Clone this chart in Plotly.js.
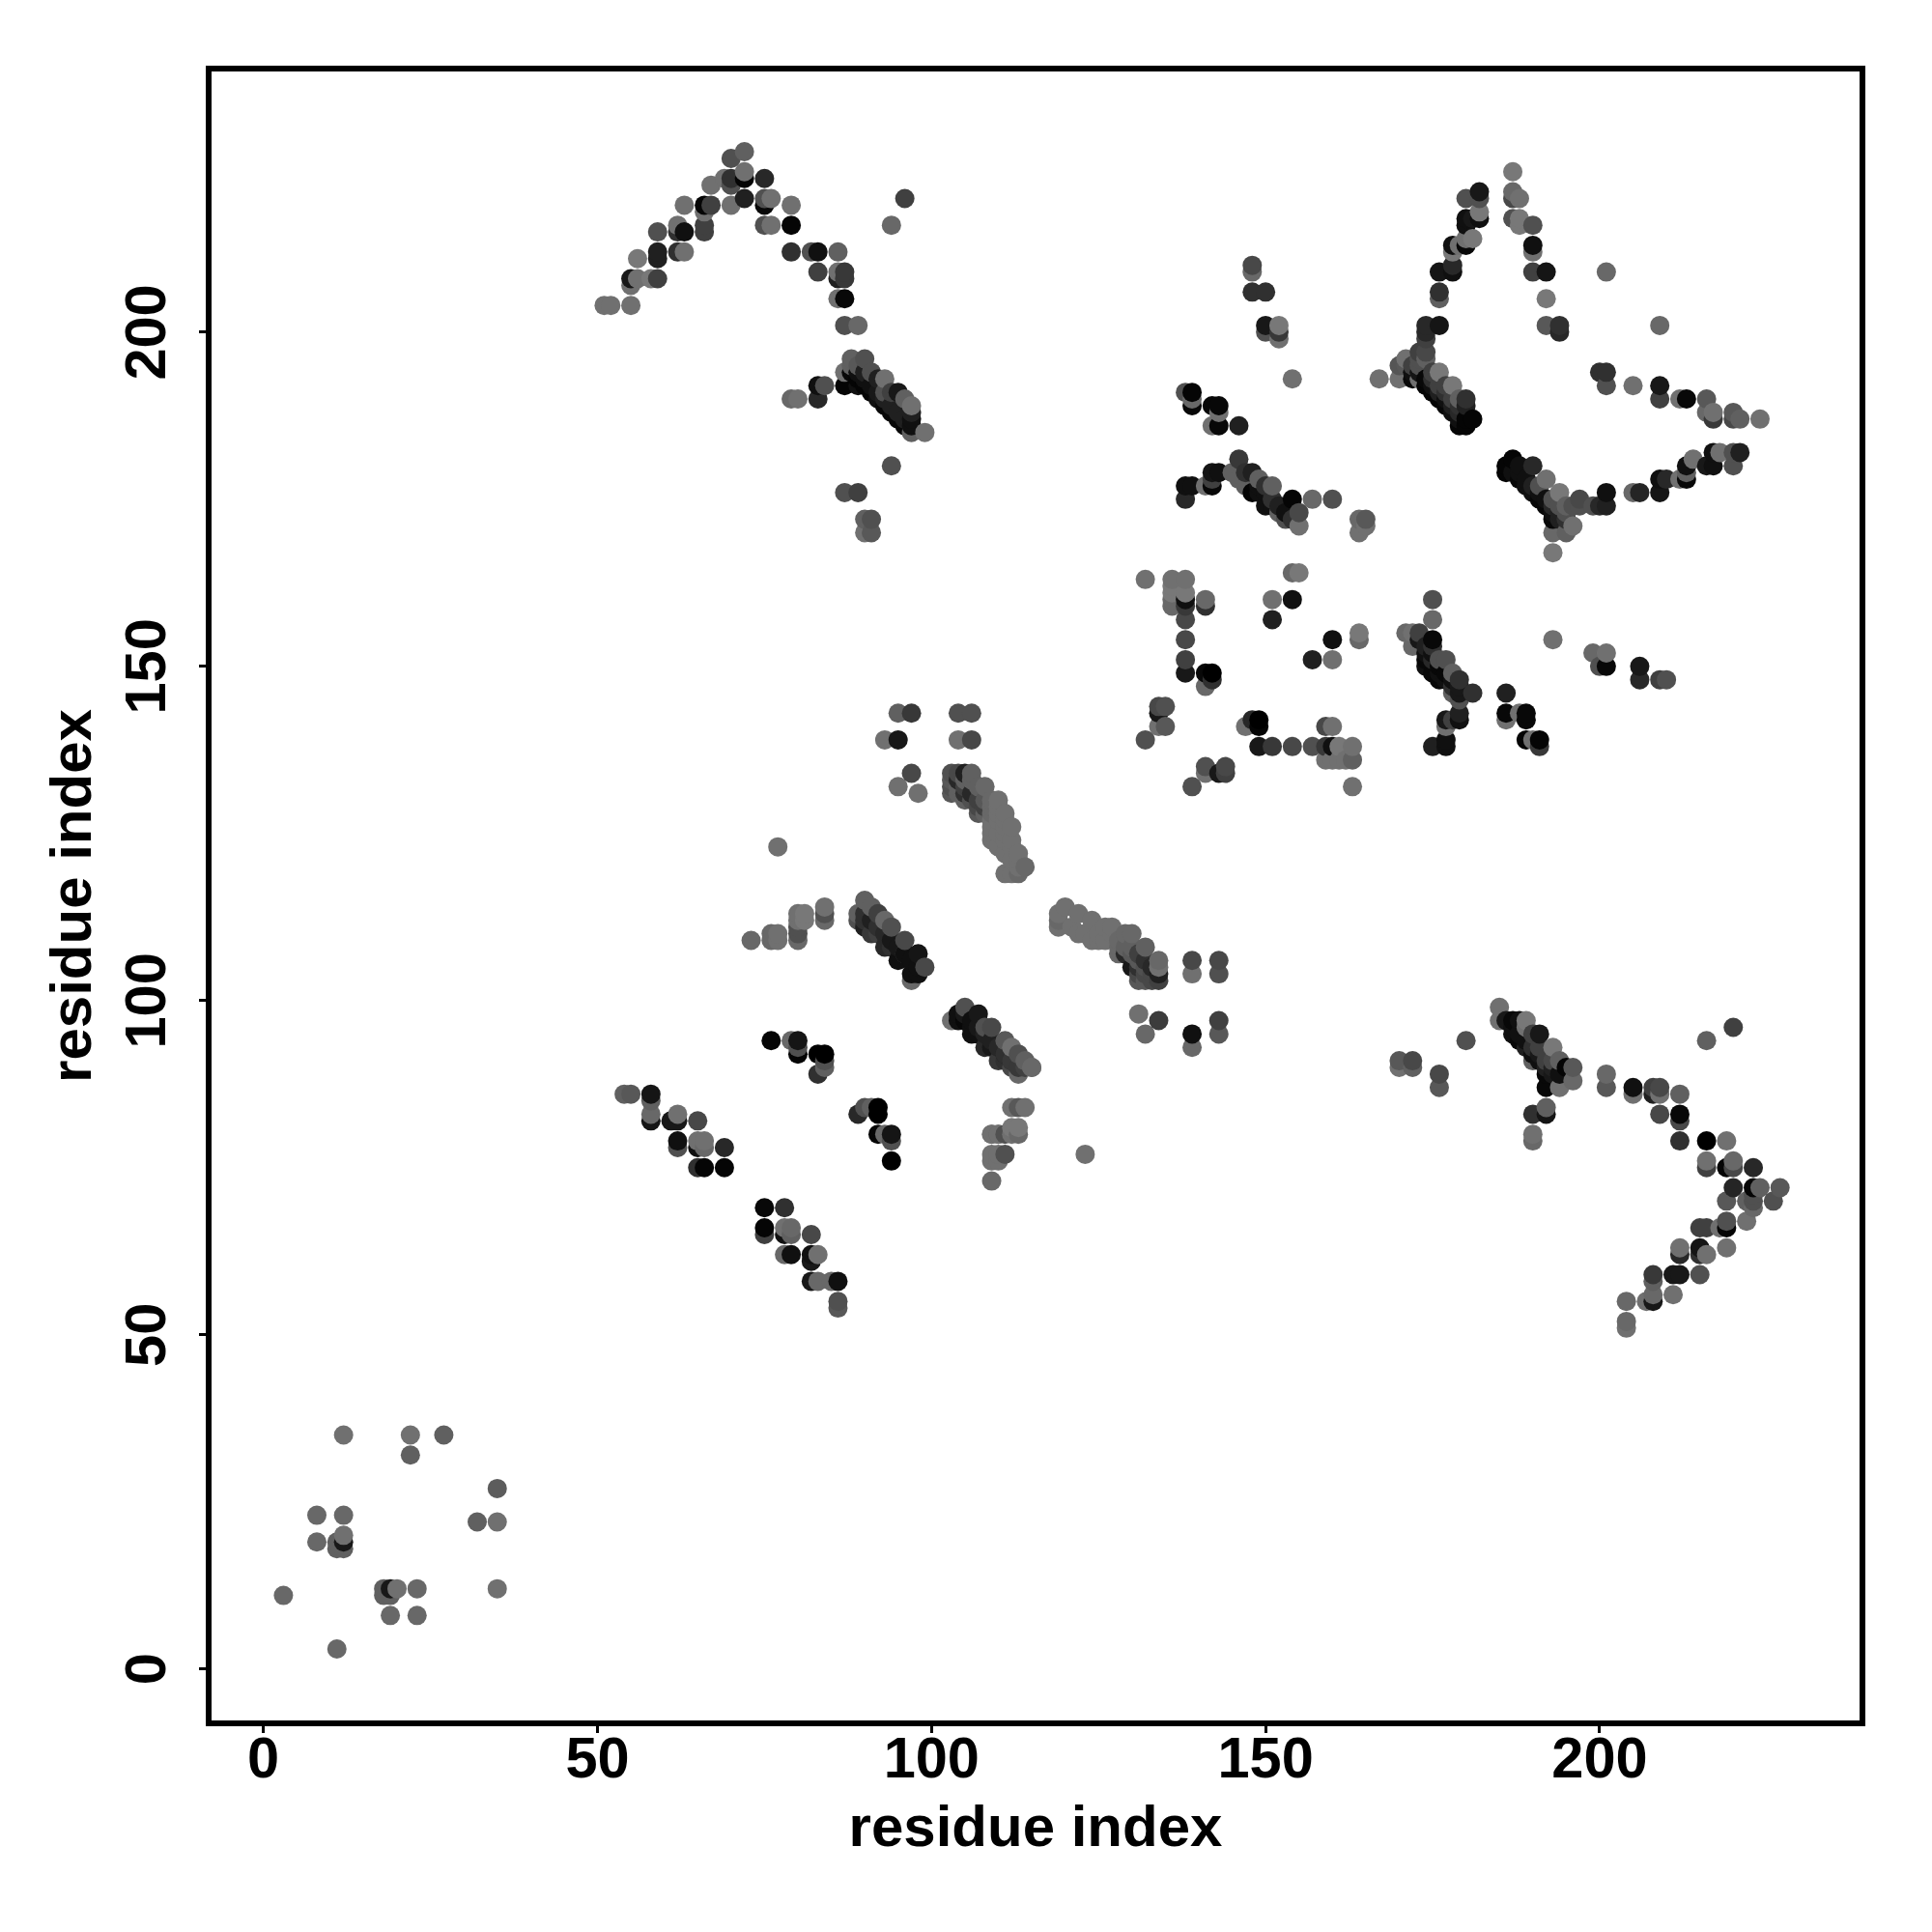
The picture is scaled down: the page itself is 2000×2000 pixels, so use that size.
<!DOCTYPE html>
<html>
<head>
<meta charset="utf-8">
<script src="https://cdn.plot.ly/plotly-3.0.1.min.js"></script>
<style>html,body{margin:0;padding:0;background:#fff}#chart{width:2000px;height:2000px}</style>
</head>
<body>
<div id="chart"></div>
<script>
// residue i, residue j, grey level of the dot (0 = black)
const hookX = [51,52,55,55,55,56,58,59,56,59,59,62,63,59,62,62,63,66,66,66,63,66,67,67,69,70,70,70,72,72,75,70,72,72,75,75,76,75,76,79,79,79,82,83,86,83,86,86,87,87,86,87,87,89,96,94];
const hookY = [204,204,204,207,208,208,208,208,211,211,212,212,212,215,216,215,215,218,216,215,219,219,219,222,223,222,223,219,223,224,223,226,227,220,219,220,220,216,216,216,219,212,212,212,212,209,209,208,209,208,205,205,201,201,220,216];
const hookG = [112,112,112,112,24,112,120,64,120,32,32,48,112,80,112,48,16,112,64,64,112,5,64,112,112,80,48,112,5,112,40,80,96,32,8,80,112,80,112,5,112,48,80,16,96,64,112,32,56,56,112,8,80,104,64,104];

const diagBX = [87,87,88,88,88,89,89,89,90,90,90,91,91,92,92,93,93,93,94,94,95,95,96,96,97,97,97,97,97,99,83,84,83,79,80,94,87,89,90,91,90,91];
const diagBY = [194,192,196,195,194,195,193,192,196,194,192,194,191,193,190,193,191,189,191,188,191,187,190,186,189,188,187,186,185,185,192,192,190,190,190,180,176,176,172,172,170,170];
const diagBG = [112,5,96,96,8,88,5,16,80,32,5,80,5,32,16,112,80,8,64,8,24,8,96,8,112,32,16,16,96,112,16,80,40,104,112,80,80,64,96,80,112,88];

const midTopX = [148,148,148,150,150,150,152,152,152,154,138,139,139,139,142,143,143,142,143,146];
const midTopY = [210,209,206,206,201,200,201,200,199,193,191,191,190,189,189,189,188,186,186,186];
const midTopG = [72,104,48,48,24,80,120,56,112,112,80,5,104,8,8,8,112,112,8,32];

const ridgeX = [146,142,143,138,139,141,142,142,138,145,147,148,149,151,150,148,150,154,152,157,160,155,155,154,153,152,146,147,149,151,149,150,151,153,164,165,164,165];
const ridgeY = [181,179,179,177,177,177,177,178,175,179,179,179,178,177,177,176,174,175,174,175,175,173,171,172,172,173,178,177,176,175,177,176,174,173,172,172,170,171];
const ridgeG = [56,21,16,16,16,112,8,64,40,96,48,32,96,96,48,5,16,5,32,104,80,72,112,48,80,96,96,96,16,48,16,16,16,16,104,88,112,112];

const apexX = [187,182,182,180,187,187,188,182,182,180,181,180,187,188,188,190,181,180,180,178,179,178,190,190,178,178,176,190,192,176,176,192,174,176,174,174,192,194,194,201,209];
const apexY = [224,221,220,220,221,220,220,218,217,217,217,216,217,217,216,216,214,214,213,213,213,212,213,212,210,209,209,209,209,206,205,205,201,201,200,199,201,201,200,209,201];
const apexG = [120,24,80,80,104,72,112,120,16,16,24,16,80,120,120,80,120,112,8,16,112,120,16,112,40,16,21,64,21,48,96,120,40,21,40,64,88,48,40,104,104];

const wingX = [200,201,201,205,209,209,212,213,216,216,217,217,220,220,221,224];
const wingY = [194,194,192,192,192,190,190,190,190,188,188,187,188,187,187,187];
const wingG = [48,48,80,112,24,64,112,8,88,104,112,56,88,72,96,112];

const vArmX = [221,220,220,218,217,217,216,214,213,213,213,212,209,210,209,206,205,201,201,200,199,197,196,196,195,193,193,194,192,190,187,186,186,188,189,191,193,194,187,188,190,192,193,191,193,195,195,197];
const vArmY = [182,182,180,182,182,180,180,181,180,178,179,178,178,178,176,176,176,176,174,174,174,174,174,171,170,170,167,176,178,180,181,180,179,180,177,175,172,172,179,178,176,174,173,177,175,173,172,175];
const vArmG = [32,80,80,112,16,16,24,112,16,8,96,112,16,40,21,37,104,16,32,40,80,80,80,112,96,104,120,120,112,40,5,5,5,16,16,8,8,32,16,8,16,8,16,80,80,80,48,72];

const upDiagX = [167,170,170,171,171,173,174,173,174,173,172,172,173,176,175,175,177,178,177,179,180,180,181,180,179,179,180,178,176,174,173];
const upDiagY = [193,193,195,196,195,197,197,196,196,195,194,193,193,194,194,191,189,192,192,190,190,189,187,186,186,187,187,188,190,192,194];
const upDiagG = [112,112,85,112,88,64,72,80,96,80,16,8,112,120,64,5,8,120,64,96,48,32,5,5,5,16,5,16,5,5,21];

const leftColX = [132,136,138,136,136,138,136,136,138,138,138,141,141,138,138,138,141,142,142,141,134,135,134,134,135,132,141,141,143,144,144,139];
const leftColY = [163,163,163,162,161,161,160,159,160,159,157,160,159,154,151,149,149,149,148,147,144,144,143,141,141,139,135,134,134,135,134,132];
const leftColG = [112,112,112,120,120,120,104,104,16,56,72,104,48,72,64,24,8,0,48,104,72,80,24,112,88,80,80,112,24,72,64,80];

const midLowX = [151,154,151,154,155,160,164,164,157,160,148,149,149,147,149,151,154,157,159,160,161,163,159,160,159,160,161,162,163,163];
const midLowY = [160,160,157,164,164,154,155,154,151,151,142,142,141,141,138,138,138,138,138,138,138,138,141,141,136,136,136,136,136,132];
const midLowG = [112,16,32,104,120,16,120,104,32,112,40,0,5,112,24,56,72,80,56,16,120,112,72,112,112,112,112,112,96,112];

const strandCX = [175,175,171,172,173,172,175,173,174,174,176,177,178,179,179,181,179,176,175,178,177,179,179,177,178,175,177,177,186,186,186,188,189,189,189,190,191,191,193,199,201,200,201,206,206,209,210];
const strandCY = [160,157,155,155,155,153,154,154,152,150,151,151,149,148,147,146,145,148,149,146,142,142,143,141,142,138,139,138,146,143,142,143,143,142,139,139,139,138,154,152,152,150,150,150,148,148,148];
const strandCG = [80,104,104,112,64,104,8,24,16,16,80,80,96,48,24,48,80,8,8,96,24,16,32,112,64,32,16,16,32,8,112,112,8,8,5,112,5,56,112,104,112,80,8,24,40,64,80];

const centerX = [95,97,104,106,93,95,104,106,97,95,98,77,73,76,77,76,77,80,80,80,80,81,80,81,84,84,84];
const centerY = [143,143,143,143,139,139,139,139,134,132,131,123,109,110,110,109,109,109,110,111,113,113,112,112,114,113,112];
const centerG = [96,56,80,80,112,24,112,72,72,112,112,112,104,104,112,104,112,104,80,80,112,120,112,120,112,80,104];

const greyAX = [103,103,103,103,104,104,104,104,105,105,105,105,105,106,106,106,106,107,107,107,107,108,108,108,108,109,109,109,109,109,109,109,110,110,110,110,110,110,111,111,111,111,111,111,111,112,112,112,112,112,113,113,113,113,114];
const greyAY = [134,133,132,131,134,133,132,131,134,133,132,131,130,134,133,131,130,132,130,129,128,132,130,129,128,130,129,128,127,126,125,124,130,129,128,127,125,123,128,127,126,125,124,122,119,126,124,123,121,119,122,121,120,119,120];
const greyAG = [80,88,80,88,72,40,96,96,32,96,64,48,96,96,96,40,80,96,64,72,88,104,88,64,96,104,104,104,112,112,112,112,112,112,112,112,112,112,112,112,112,112,112,112,112,112,112,112,112,112,112,112,112,104,104];

const diagDX = [90,89,91,92,93,94,96,98,99,97,91,93,95,97,98,90,89,90,92,94,96];
const diagDY = [115,113,114,113,112,111,109,107,105,103,110,108,106,104,104,112,112,111,110,108,107];
const diagDG = [96,96,96,64,104,80,72,21,72,104,56,40,16,16,16,48,80,32,64,48,64];

const greyBX = [119,119,119,120,122,124,121,122,124,123,127,126,126,125,127,128,128,130,129,132,134,134,134,131,132,133,130,129,131,134,139,139,143,143,131,132,134,139,139,143,143];
const greyBY = [113,111,112,114,113,112,111,110,109,110,111,111,109,110,110,108,107,110,110,108,106,105,103,103,103,103,105,107,105,104,106,104,106,104,98,95,97,95,93,97,95];
const greyBG = [112,112,104,112,112,112,112,112,112,112,112,112,112,112,112,104,104,104,104,96,104,112,64,88,88,72,24,40,48,32,72,112,72,80,112,104,60,16,104,64,88];

const leftLowX = [54,55,58,58,58,58,61,62,62,65,62,62,65,66,65,66,69,65,66,69,76,79,80,80,80,83,84,84,84,83,89,90,91,92,92,92,93,94,94,94];
const leftLowY = [86,86,86,85,83,82,82,82,83,82,79,78,79,79,78,78,78,75,75,75,94,94,94,93,92,92,92,91,90,89,83,84,84,84,83,80,80,80,79,76];
const leftLowG = [96,88,21,96,104,21,24,24,112,72,16,80,112,112,16,104,40,48,5,5,5,104,21,80,5,0,0,80,96,48,40,80,96,0,0,5,104,21,80,0];

const diagEX = [103,104,105,107,104,106,108,110,113,115,114,113,112,111,109,108,112,111,105,106,107,109,111,112,113,114,115,109,110,111,112,113,112,113,114,109,110,111,112,113,109,110,109,110,109,123];
const diagEY = [97,98,99,98,97,95,93,91,89,90,91,92,93,94,96,96,90,91,97,96,95,93,92,91,90,90,90,80,80,80,81,81,84,84,84,77,77,77,80,80,76,76,73,80,80,77];
const diagEG = [112,16,80,24,16,16,40,56,104,104,96,80,112,88,72,80,72,48,8,16,16,24,32,40,56,64,104,112,104,80,120,120,112,88,112,112,112,80,112,104,112,112,104,112,112,112];

const lowMidX = [75,78,75,75,78,79,78,79,82,78,79,82,83,82,82,83,85,86,86,86];
const lowMidY = [69,69,66,65,66,66,65,65,65,62,62,62,62,61,58,58,58,58,55,54];
const lowMidG = [8,48,5,64,112,104,16,96,72,104,16,16,112,24,24,104,104,16,80,88];

const tailX = [170,170,172,172,176,176,180,185,185,186,187,188,189,187,189,188,190,191,193,194,196,196,195,194,192,192,190,191,194,190,191,192,193,189,190,192,192,190,190];
const tailY = [91,90,91,90,89,87,94,99,97,97,97,97,97,96,96,94,95,95,93,91,90,88,90,87,87,89,92,91,89,91,93,91,90,94,83,84,83,80,79];
const tailG = [88,112,72,96,72,88,80,112,112,24,8,16,120,16,112,8,64,24,120,96,88,104,5,112,8,8,16,16,16,96,64,64,32,16,48,96,21,112,104];

const chevronX = [201,201,205,205,208,209,208,209,212,209,212,212,212,216,219,216,216,219,220,220,223,220,223,224,227,219,222,223,223,223,226,222,219,219,218,216,215,219,216,215,215,212,212,215,212,211,208,208,211,208,208,207,204,204,204,220,216];
const chevronY = [89,87,87,86,87,87,86,86,86,83,83,82,79,79,79,76,75,75,76,75,75,72,72,72,72,70,70,71,70,69,70,67,67,66,66,66,66,63,62,63,62,63,62,59,59,59,59,58,56,56,55,55,55,52,51,96,94];
const chevronG = [104,88,16,112,64,72,32,112,96,72,8,72,48,0,112,112,64,5,104,72,40,37,5,96,88,88,96,80,80,104,80,112,80,5,112,64,64,112,112,21,48,112,40,80,24,24,56,96,112,104,24,112,104,104,112,64,96];

const originX = [12,22,27,22,35,32,35,8,12,8,11,11,12,12,12,3,18,18,19,19,20,23,35,19,23,11];
const originY = [35,35,35,32,27,22,22,23,23,19,19,18,18,19,20,11,12,11,11,12,12,12,12,8,8,3];
const originG = [112,112,96,96,92,96,112,104,104,104,96,96,96,24,112,104,96,96,96,24,112,104,112,104,104,104];

// extra contacts inside the dense strands
const strandFillX = [89,90,91,92,93,94,95,96, 90,91,92,93,94,95,96,97,98, 105,106,107,108,109,110,111,112, 125,128,129,130,130,131,131,132,132,133,133,132,131, 174,175,176,177,178,175,174,175,176,177,178,179, 188,189,190,191,192,193,194,194,195, 174,175,176,177,178,179,175,176,177,178,179,172, 187,188,189,190,191,192,193,193];
const strandFillY = [194,193,192,191,190,189,188,187, 113,112,111,110,109,108,107,106,105, 98,97,96,95,94,93,92,91, 109,109,108,107,108,107,106,106,105,105,104,104,104, 153,152,150,149,148,153,151,151,149,148,147,146, 179,178,177,176,175,174,173,174,174, 193,192,191,190,189,188,193,192,191,190,189,195, 95,95,93,93,92,90,89,91];
const strandFillG = [16,16,16,24,32,32,32,32, 48,32,48,40,24,24,16,16,16, 24,16,24,32,32,40,48,56, 112,104,96,88,96,64,88,48,80,40,72,72,72, 32,16,8,8,16,48,8,40,16,16,48,24, 16,16,32,16,16,40,32,80,96, 8,16,32,16,32,40,48,64,48,64,48,64, 16,16,32,48,24,32,24,72];

const xTicks = [0,50,100,150,200];
const yTicks = [0,50,100,150,200];
const axisLabel = 'residue index';

const allX = [].concat(hookX,diagBX,midTopX,ridgeX,apexX,wingX,vArmX,upDiagX,leftColX,midLowX,strandCX,centerX,greyAX,diagDX,greyBX,leftLowX,diagEX,lowMidX,tailX,chevronX,originX,strandFillX);
const allY = [].concat(hookY,diagBY,midTopY,ridgeY,apexY,wingY,vArmY,upDiagY,leftColY,midLowY,strandCY,centerY,greyAY,diagDY,greyBY,leftLowY,diagEY,lowMidY,tailY,chevronY,originY,strandFillY);
const allG = [].concat(hookG,diagBG,midTopG,ridgeG,apexG,wingG,vArmG,upDiagG,leftColG,midLowG,strandCG,centerG,greyAG,diagDG,greyBG,leftLowG,diagEG,lowMidG,tailG,chevronG,originG,strandFillG);

// the reference paints by residue i, then residue j
const order = allX.map((_, i) => i).sort((a, b) => allX[a] - allX[b] || allY[a] - allY[b]);

const boldFont = size => ({family: '"Liberation Sans", Arial, sans-serif', size: size, color: '#000', weight: 700});
const axisBase = () => ({
  showgrid: false, zeroline: false, showline: true, mirror: true,
  linecolor: '#000', linewidth: 6,
  ticks: 'outside', ticklen: 7, tickwidth: 3, tickcolor: '#000',
  tickmode: 'array', automargin: false
});

Plotly.newPlot('chart', [{
  type: 'scatter', mode: 'markers',
  x: order.map(i => allX[i]),
  y: order.map(i => allY[i]),
  marker: {
    size: 20,
    color: order.map(i => `rgb(${allG[i]},${allG[i]},${allG[i]})`),
    line: {width: 0}
  },
  cliponaxis: false, hoverinfo: 'skip'
}], {
  width: 2000, height: 2000,
  paper_bgcolor: '#fff', plot_bgcolor: '#fff',
  showlegend: false,
  margin: {l: 219, r: 75, t: 74, b: 219, pad: 0},
  xaxis: Object.assign(axisBase(), {
    range: [-7.76, 238.9], tickvals: xTicks, ticktext: xTicks.map(String),
    tickfont: boldFont(59.5), ticklabelstandoff: -25,
    title: {text: axisLabel, font: boldFont(60), standoff: 19}
  }),
  yaxis: Object.assign(axisBase(), {
    range: [-7.7, 239.0], tickvals: yTicks, ticktext: yTicks.map(String), tickangle: -90,
    tickfont: boldFont(59.5), ticklabelstandoff: 11, ticklabelshift: 9,
    title: {text: axisLabel, font: boldFont(60), standoff: 5}
  })
}, {staticPlot: true, displayModeBar: false});
</script>
</body>
</html>
